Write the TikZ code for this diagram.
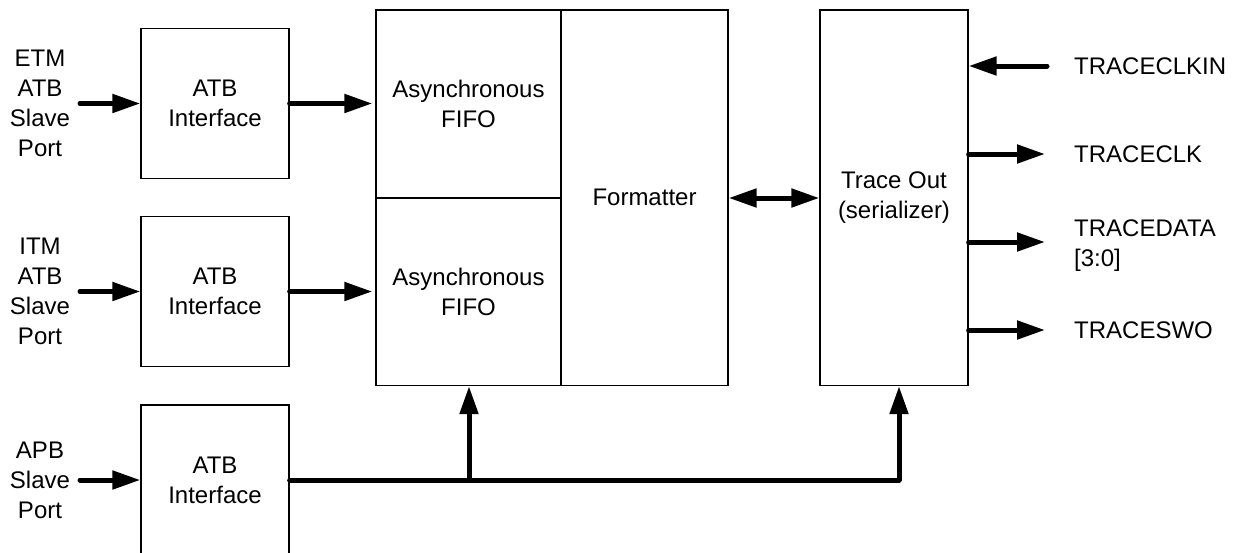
\documentclass[tikz,border=0pt]{standalone}
\usepackage{fontspec}
\setmainfont{Liberation Sans}
\usetikzlibrary{arrows.meta}
\begin{document}
\begin{tikzpicture}[x=1pt,y=-1pt,
  box/.style={draw=black,line width=1.3pt,inner sep=0pt,align=center,font=\fontsize{24}{30}\selectfont},
  lbl/.style={inner sep=0pt,font=\fontsize{24}{30}\selectfont},
  arr/.style={line width=5pt,line cap=round,line join=round,-{Triangle[length=28pt,width=18pt]}},
  darr/.style={line width=5pt,{Triangle[length=28pt,width=18pt]}-{Triangle[length=28pt,width=18pt]}},
  busline/.style={line width=5pt,line cap=round,line join=round}]
\useasboundingbox (0,0) rectangle (1239,552);
% ATB interface boxes
\node[box,minimum width=148,minimum height=150] (atb1) at (215,103.5) {ATB\\Interface};
\node[box,minimum width=148,minimum height=150] (atb2) at (215,291.5) {ATB\\Interface};
\node[box,minimum width=148,minimum height=150] (atb3) at (215,480) {ATB\\Interface};
% FIFO / formatter block
\node[box,minimum width=185,minimum height=188] (fifo1) at (468.5,104) {Asynchronous\\FIFO};
\node[box,minimum width=185,minimum height=187.5] (fifo2) at (468.5,291.75) {Asynchronous\\FIFO};
\node[box,minimum width=167,minimum height=375.5] (fmt) at (644.5,197.75) {Formatter};
\node[box,minimum width=148,minimum height=375.5] (tout) at (894,197.75) {Trace Out\\(serializer)};
% input labels
\node[lbl,align=center] (etm) at (40,103) {ETM\\ATB\\Slave\\Port};
\node[lbl,align=center] (itm) at (40,291.5) {ITM\\ATB\\Slave\\Port};
\node[lbl,align=center] (apb) at (40,480) {APB\\Slave\\Port};
\coordinate (etmin) at (80,103.5);
\coordinate (itmin) at (80,291.5);
\coordinate (apbin) at (80,480);
\draw[arr] (etmin) -- (atb1.west);
\draw[arr] (itmin) -- (atb2.west);
\draw[arr] (apbin) -- (atb3.west);
\draw[arr,shorten >=3pt] (atb1.east) -- (fifo1.west |- atb1.east);
\draw[arr,shorten >=3pt] (atb2.east) -- (fifo2.west |- atb2.east);
% bus
\coordinate (j1) at (469,480);
\coordinate (j2) at (899,480);
\draw[busline] (atb3.east) -- (j2);
\draw[arr] (j1) -- (j1 |- fifo2.south);
\draw[arr] (j2) -- (j2 |- tout.south);
% formatter <-> trace out
\draw[darr] (fmt.east |- 0,198) -- (tout.west |- 0,198);
% output side
\coordinate (ckin) at (1047,66);
\coordinate (ck) at (1045,154);
\coordinate (td) at (1045,242);
\coordinate (sw) at (1045,330);
\draw[arr] (ckin) -- (tout.east |- ckin);
\draw[arr] (tout.east |- ck) -- (ck);
\draw[arr] (tout.east |- td) -- (td);
\draw[arr] (tout.east |- sw) -- (sw);
\node[lbl,anchor=west] (lckin) at (1074,66) {TRACECLKIN};
\node[lbl,anchor=west] (lck) at (1074,154) {TRACECLK};
\node[lbl,anchor=west,align=left] (ltd) at (1074,246) {TRACEDATA\\{[3:0]}};
\node[lbl,anchor=west] (lsw) at (1074,330) {TRACESWO};
\end{tikzpicture}
\end{document}
